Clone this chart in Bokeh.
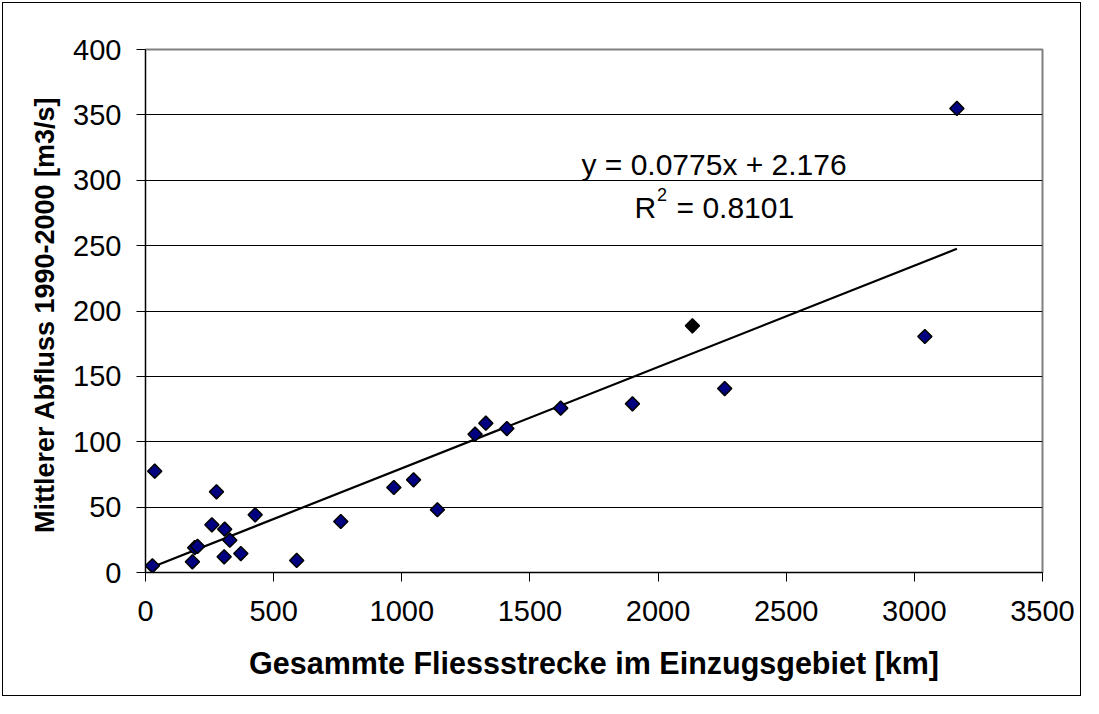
from bokeh.plotting import figure
from bokeh.models import Range1d, FixedTicker, ColumnDataSource, Label
from bokeh.embed import file_html
from bokeh.resources import INLINE
import numpy as np

# ---- data ----
laenge_km = [27, 36, 183, 192, 203, 259, 277, 307, 309, 329, 372, 428, 590, 762,
             969, 1046, 1139, 1286, 1328, 1410, 1620, 1900, 2134, 2260, 3041, 3166]
abfluss_m3s = [5.1, 77.5, 8.2, 19.0, 20.0, 36.5, 61.7, 12.0, 33.1, 24.7, 14.5, 44.1, 9.2, 39.0,
               65.0, 70.9, 48.0, 105.8, 114.2, 110.1, 125.7, 129.0, 188.7, 140.7, 180.5, 354.9]
highlight_index = 22  # point drawn with black fill
trend_slope = 0.0775
trend_intercept = 2.176
r_squared = 0.8101
x_ticks = [0, 500, 1000, 1500, 2000, 2500, 3000, 3500]
y_ticks = [0, 50, 100, 150, 200, 250, 300, 350, 400]
x_title = "Gesammte Fliessstrecke im Einzugsgebiet [km]"
y_title = "Mittlerer Abfluss 1990-2000  [m3/s]"

FONT = "Liberation Sans"

p = figure(width=1079, height=694, output_backend="svg", toolbar_location=None,
           x_range=Range1d(x_ticks[0], x_ticks[-1]), y_range=Range1d(y_ticks[0], y_ticks[-1]),
           min_border_left=142, min_border_right=40, min_border_top=46, min_border_bottom=125,
           background_fill_color="white", border_fill_color="white")
p.styles = {"border": "1px solid black", "margin-left": "2px", "margin-top": "2px"}

p.outline_line_color = "#808080"
p.outline_line_width = 2

p.xgrid.grid_line_color = None
p.ygrid.grid_line_color = "black"
p.ygrid.grid_line_width = 1
p.ygrid.ticker = FixedTicker(ticks=y_ticks)

for ax, ticks in ((p.xaxis[0], x_ticks), (p.yaxis[0], y_ticks)):
    ax.ticker = FixedTicker(ticks=ticks)
    ax.axis_line_color = "black"
    ax.axis_line_width = 1
    ax.major_tick_line_color = "black"
    ax.major_tick_out = 9
    ax.major_tick_in = 0
    ax.minor_tick_line_color = None
    ax.major_label_text_font = FONT
    ax.major_label_text_font_size = "29px"
    ax.major_label_text_color = "black"
    ax.axis_label_text_font = FONT
    ax.axis_label_text_font_style = "bold"
    ax.axis_label_text_color = "black"

p.xaxis.axis_label = x_title
p.yaxis.axis_label = y_title
p.xaxis.axis_label_text_font_size = "30.5px"
p.yaxis.axis_label_text_font_size = "27px"
p.xaxis.major_label_standoff = 19
p.yaxis.major_label_standoff = 15
p.xaxis.axis_label_standoff = 22
p.yaxis.axis_label_standoff = 10

# trend line over the data range
tx = np.array([min(laenge_km), max(laenge_km)])
p.line(tx, trend_slope * tx + trend_intercept, line_color="black", line_width=2.2)

fills = ["black" if i == highlight_index else "#000080" for i in range(len(laenge_km))]
src = ColumnDataSource(dict(x=laenge_km, y=abfluss_m3s, c=fills))
p.scatter("x", "y", source=src, marker="square", size=10, angle=np.pi / 4,
          fill_color="c", line_color="black", line_width=1.5)

def add_text(x, y, t, size):
    p.add_layout(Label(x=x, y=y, text=t, text_font=FONT, text_font_size=size,
                       text_color="black", text_align="left", text_baseline="alphabetic"))

add_text(1701, 312, f"y = {trend_slope}x + {trend_intercept}", "30px")
add_text(1908, 279.2, "R", "30px")
add_text(1996, 289.3, "2", "18px")
add_text(2072, 279.2, f"= {r_squared}", "30px")

open("out.html", "w").write(file_html(p, INLINE))
